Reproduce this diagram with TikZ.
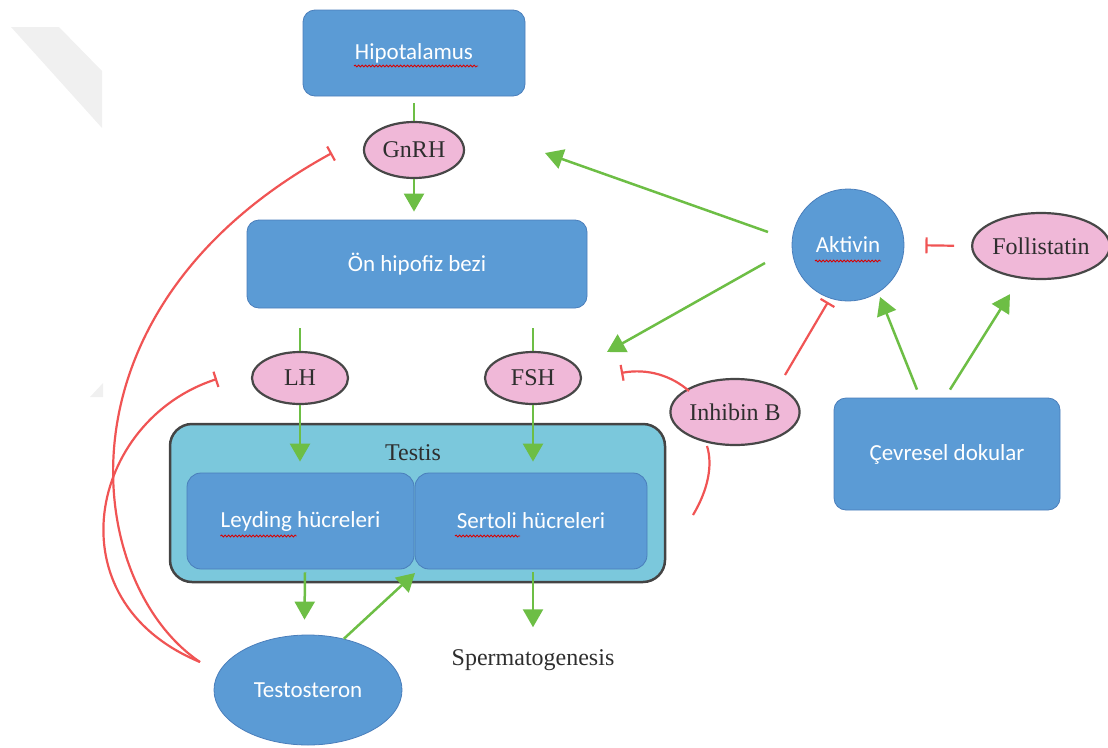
\documentclass[tikz,border=0pt]{standalone}
\usepackage{fontspec}
\setmainfont{Liberation Serif}
\newfontfamily\calibrifont{Carlito}
\usetikzlibrary{arrows.meta,shapes.geometric,calc,decorations.pathmorphing}
\definecolor{boxblue}{HTML}{5B9BD5}
\definecolor{boxedge}{HTML}{4A7EBB}
\definecolor{pinkfill}{HTML}{F0B8D8}
\definecolor{pinkedge}{HTML}{474747}
\definecolor{testisfill}{HTML}{7BC8DC}
\definecolor{testisedge}{HTML}{444444}
\definecolor{garr}{HTML}{6DBE45}
\definecolor{rinh}{HTML}{F05454}
\definecolor{txtdark}{HTML}{2E2E2E}
\definecolor{wmark}{HTML}{F0F0F0}
\begin{document}
\begin{tikzpicture}[x=1pt,y=-1pt,
  bluebox/.style={draw=boxedge, line width=0.8pt, fill=boxblue, rounded corners=12pt,
    text=white, inner sep=0pt, font=\calibrifont\fontsize{23}{27}\selectfont},
  pinkell/.style={ellipse, draw=pinkedge, line width=2.2pt, fill=pinkfill, inner sep=0pt,
    text=txtdark, font=\fontsize{24}{28}\selectfont},
  seriflbl/.style={text=txtdark, inner sep=0pt, font=\fontsize{24}{28}\selectfont},
  garrow/.style={draw=garr, line width=2.5pt, -{Triangle[width=20pt,length=18pt]}},
  gline/.style={draw=garr, line width=2.5pt},
  rinhib/.style={draw=rinh, line width=2.2pt, -{Bar[width=16pt]}},
  rline/.style={draw=rinh, line width=2.2pt},
  wavy/.style={draw=red!85!black, line width=0.8pt, decorate,
    decoration={snake, segment length=3.5pt, amplitude=1pt}}]
\useasboundingbox (0,0) rectangle (1108,747);
% faint watermark shapes
\fill[wmark] (11,27) -- (59,27) -- (102,71) -- (102,128) -- cycle;
\fill[wmark] (90,397) -- (103,383) -- (103,397) -- cycle;

% nodes
\node[bluebox, minimum width=222pt, minimum height=86pt] (hypo) at (414,53) {Hipotalamus};
\node[pinkell, minimum width=100pt, minimum height=56pt] (gnrh) at (414,150) {GnRH};
\node[bluebox, minimum width=340pt, minimum height=88pt] (onh) at (417,264) {Ön hipofiz bezi};
\node[pinkell, minimum width=96pt, minimum height=52pt] (lh) at (300,378) {LH};
\node[pinkell, minimum width=96pt, minimum height=52pt] (fsh) at (533,378) {FSH};
\node[draw=testisedge, line width=2.5pt, fill=testisfill, rounded corners=22pt,
  minimum width=495pt, minimum height=158pt, inner sep=0pt] (testis) at (417.5,503) {};
\node[seriflbl] (testislbl) at (413,453) {Testis};
\node[bluebox, rounded corners=14pt, minimum width=227pt, minimum height=96pt] (leyding) at (300.5,521) {Leyding hücreleri};
\node[bluebox, rounded corners=14pt, minimum width=232pt, minimum height=96pt] (sertoli) at (531,521) {Sertoli hücreleri};
\node[ellipse, draw=boxedge, line width=0.8pt, fill=boxblue, text=white, inner sep=0pt,
  font=\calibrifont\fontsize{23}{27}\selectfont, minimum width=188pt, minimum height=110pt] (testo) at (308,690) {Testosteron};
\node[seriflbl] (sperm) at (533,660) {Spermatogenesis};
\node[circle, draw=boxedge, line width=0.8pt, fill=boxblue, text=white, inner sep=0pt,
  font=\calibrifont\fontsize{23}{27}\selectfont, minimum size=112pt] (aktivin) at (848,245) {Aktivin};
\node[pinkell, minimum width=117pt, minimum height=66pt] (foll) at (1041,246) {Follistatin};
\node[pinkell, minimum width=124pt, minimum height=66pt] (inhb) at (735,412) {Inhibin B};
\node[bluebox, minimum width=226pt, minimum height=112pt] (cevre) at (947,454) {Çevresel dokular};

% spell-check underlines
\draw[wavy] ($(hypo.center)+(-60,13)$) -- ++(124,0);
\draw[wavy] ($(aktivin.center)+(-33,16)$) -- ++(66,0);
\draw[wavy] ($(leyding.center)+(-80,15)$) -- ++(76,0);
\draw[wavy] ($(sertoli.center)+(-76,15)$) -- ++(65,0);

% free end points
\coordinate (gtip) at (545,153);
\coordinate (ftip) at (607,352);
\coordinate (a1) at (768,232);
\coordinate (a2) at (765,263);
\coordinate (junc) at (415,573);
\coordinate (sertin) at (693,515);
\coordinate (fshbar) at (621,373);
\coordinate (gnbar) at (332,153);
\coordinate (lhbar) at (217,379);
\coordinate (tstart) at (200,662);

% green connectors
\draw[gline] ([yshift=-7pt]hypo.south) -- (gnrh.north);
\draw[garrow] (gnrh.south) -- ($(gnrh.south |- onh.north)+(0,-8)$);
\draw[gline] ($(onh.south -| lh.north)+(0,20)$) -- (lh.north);
\draw[gline] ($(onh.south -| fsh.north)+(0,20)$) -- (fsh.north);
\draw[garrow] (lh.south) -- ($(lh.south |- leyding.north)+(0,-11)$);
\draw[garrow] (fsh.south) -- ($(fsh.south |- sertoli.north)+(0,-11)$);
\draw[garrow] ($(leyding.south)+(4.5,3)$) -- ($(testo.north)+(-3.5,-15)$);
\draw[garrow] ($(sertoli.south)+(2,3)$) -- ($(sperm.north)+(0,-22)$);
\draw[garrow] (testo.55) -- (junc);
\draw[garrow] (a1) -- (gtip);
\draw[garrow] (a2) -- (ftip);
\draw[garrow] ($(cevre.north)+(-30,-8)$) -- ($(aktivin.center)+(32,52)$);
\draw[garrow] ($(cevre.north)+(3,-8)$) -- ($(foll.south)+(-31,14)$);

% red inhibitions
\draw[rinhib, shorten <=17pt, shorten >=21pt] (foll.west) -- (aktivin.east);
\draw[rinhib] ($(inhb.center)+(50,-37)$) -- ($(aktivin.center)+(-20,57)$);
\draw[rinhib] ($(inhb.center)+(-46,-21)$) .. controls (672,376) and (648,368) .. (fshbar);
\draw[rline] (sertin) .. controls (708,490) and (713,465) .. ($(inhb.center)+(-28,34)$);
\draw[rinhib] (tstart) .. controls (85,585) and (45,310) .. (gnbar);
\draw[rinhib] (tstart) .. controls (50,600) and (90,420) .. (lhbar);
\end{tikzpicture}
\end{document}
